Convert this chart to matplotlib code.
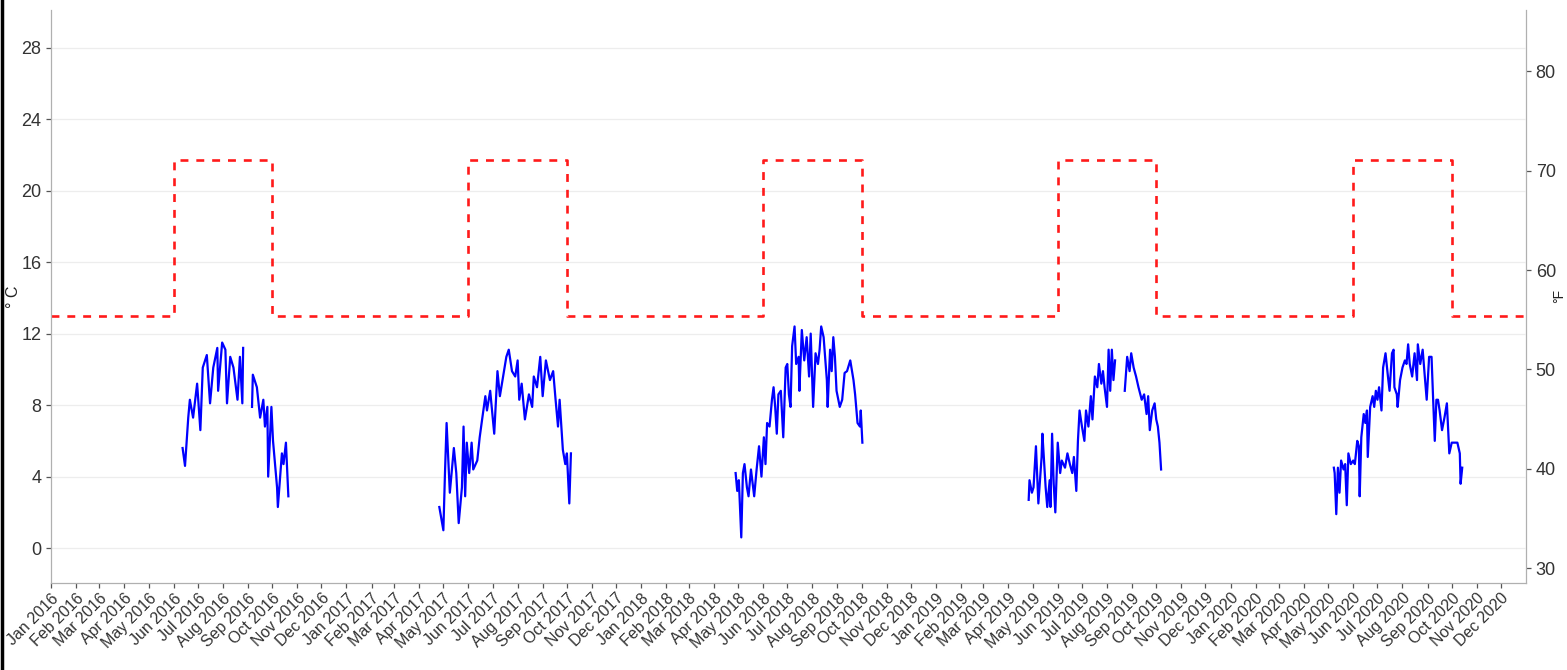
import numpy as np
import pandas as pd
import matplotlib
matplotlib.use("Agg")
import matplotlib.pyplot as plt
from matplotlib.lines import Line2D

plt.rcParams.update({"font.family": ["Liberation Sans Narrow", "Liberation Sans", "DejaVu Sans"]})

# summer/winter temperature criterion (deg C), step changes on these dates
crit_dates = ["2016-01-01", "2016-06-01", "2016-10-01", "2017-06-01", "2017-10-01",
              "2018-06-01", "2018-10-01", "2019-06-01", "2019-10-01", "2020-06-01",
              "2020-10-01", "2021-01-01"]
crit_vals = [13, 21.7, 13, 21.7, 13, 21.7, 13, 21.7, 13, 21.7, 13, 13]

# observed water temperature (deg C); None = missing data
dates_2016 = ["2016-06-12", "2016-06-15", "2016-06-19", "2016-06-21", "2016-06-25", "2016-06-30",
              "2016-07-04", "2016-07-07", "2016-07-12", "2016-07-16", "2016-07-20", "2016-07-25",
              "2016-07-26", "2016-07-31", "2016-08-04", "2016-08-06", "2016-08-10", "2016-08-14",
              "2016-08-19", "2016-08-22", "2016-08-25", "2016-08-26", "2016-08-31", "2016-09-06",
              "2016-09-07", "2016-09-12", "2016-09-16", "2016-09-20", "2016-09-22", "2016-09-25",
              "2016-09-26", "2016-09-30", "2016-10-02", "2016-10-07", "2016-10-08", "2016-10-13",
              "2016-10-15", "2016-10-18", "2016-10-21"]
temp_2016 = [5.6, 4.6, 7.3, 8.3, 7.3, 9.2, 6.6, 10.1, 10.8, 8.1, 10.1, 11.2,
             8.8, 11.5, 11.1, 8.1, 10.7, 10.1, 8.3, 10.7, 8.1, 11.2, None, 7.9,
             9.7, 9.0, 7.3, 8.3, 6.8, 7.9, 4.0, 7.9, 6.0, 3.4, 2.3, 5.3,
             4.7, 5.9, 2.9]

dates_2017 = ["2017-04-26", "2017-05-01", "2017-05-03", "2017-05-05", "2017-05-09", "2017-05-14",
              "2017-05-17", "2017-05-20", "2017-05-24", "2017-05-26", "2017-05-28", "2017-05-30",
              "2017-06-02", "2017-06-05", "2017-06-07", "2017-06-12", "2017-06-15", "2017-06-18",
              "2017-06-22", "2017-06-24", "2017-06-28", "2017-07-03", "2017-07-07", "2017-07-10",
              "2017-07-14", "2017-07-18", "2017-07-21", "2017-07-25", "2017-07-29", "2017-08-01",
              "2017-08-03", "2017-08-06", "2017-08-10", "2017-08-15", "2017-08-19", "2017-08-21",
              "2017-08-25", "2017-08-29", "2017-09-01", "2017-09-05", "2017-09-10", "2017-09-14",
              "2017-09-17", "2017-09-20", "2017-09-22", "2017-09-26", "2017-09-29", "2017-10-01",
              "2017-10-04", "2017-10-06"]
temp_2017 = [2.3, 1.0, 4.2, 7.0, 3.1, 5.6, 4.2, 1.4, 3.4, 6.8, 2.9, 5.9,
             4.2, 5.9, 4.4, 4.9, 6.2, 7.2, 8.5, 7.7, 8.8, 6.4, 9.9, 8.5,
             9.6, 10.7, 11.1, 9.9, 9.6, 10.5, 8.3, 9.2, 7.2, 8.6, 7.9, 9.6,
             9.0, 10.7, 8.5, 10.5, 9.4, 9.9, 8.3, 6.8, 8.3, 5.5, 4.7, 5.3,
             2.5, 5.3]

dates_2018 = ["2018-04-28", "2018-04-30", "2018-05-02", "2018-05-05", "2018-05-07", "2018-05-09",
              "2018-05-12", "2018-05-14", "2018-05-17", "2018-05-21", "2018-05-24", "2018-05-27",
              "2018-05-30", "2018-06-02", "2018-06-04", "2018-06-06", "2018-06-09", "2018-06-12",
              "2018-06-14", "2018-06-16", "2018-06-18", "2018-06-20", "2018-06-23", "2018-06-26",
              "2018-06-29", "2018-07-01", "2018-07-03", "2018-07-05", "2018-07-07", "2018-07-10",
              "2018-07-12", "2018-07-15", "2018-07-16", "2018-07-19", "2018-07-22", "2018-07-25",
              "2018-07-28", "2018-07-30", "2018-08-02", "2018-08-05", "2018-08-08", "2018-08-10",
              "2018-08-12", "2018-08-15", "2018-08-19", "2018-08-20", "2018-08-23", "2018-08-25",
              "2018-08-27", "2018-08-29", "2018-08-31", "2018-09-04", "2018-09-07", "2018-09-10",
              "2018-09-13", "2018-09-17", "2018-09-21", "2018-09-23", "2018-09-26", "2018-09-29",
              "2018-09-30", "2018-10-02"]
temp_2018 = [4.2, 3.2, 3.8, 0.6, 4.2, 4.7, 3.4, 2.9, 4.4, 2.9, 4.4, 5.7,
             4.0, 6.2, 4.7, 7.0, 6.8, 8.3, 9.0, 7.9, 6.4, 8.6, 8.8, 6.2,
             10.1, 10.3, 8.6, 7.9, 11.3, 12.4, 10.3, 10.7, 8.8, 12.2, 10.5, 11.8,
             9.6, 12.0, 7.9, 10.9, 10.3, 11.1, 12.4, 11.8, 9.4, 7.9, 11.1, 9.9,
             11.8, 10.7, 8.8, 7.9, 8.3, 9.8, 9.9, 10.5, 9.4, 8.6, 7.0, 6.8,
             7.7, 5.9]

dates_2019 = ["2019-04-26", "2019-04-27", "2019-04-30", "2019-05-02", "2019-05-05", "2019-05-08",
              "2019-05-12", "2019-05-13", "2019-05-17", "2019-05-19", "2019-05-22", "2019-05-23",
              "2019-05-25", "2019-05-27", "2019-05-29", "2019-06-01", "2019-06-04", "2019-06-06",
              "2019-06-10", "2019-06-13", "2019-06-16", "2019-06-19", "2019-06-21", "2019-06-24",
              "2019-06-26", "2019-06-28", "2019-07-01", "2019-07-04", "2019-07-06", "2019-07-09",
              "2019-07-12", "2019-07-14", "2019-07-17", "2019-07-20", "2019-07-22", "2019-07-25",
              "2019-07-27", "2019-07-29", "2019-08-01", "2019-08-03", "2019-08-05", "2019-08-07",
              "2019-08-09", "2019-08-11", "2019-08-17", "2019-08-23", "2019-08-26", "2019-08-29",
              "2019-08-31", "2019-09-03", "2019-09-06", "2019-09-09", "2019-09-13", "2019-09-16",
              "2019-09-19", "2019-09-21", "2019-09-23", "2019-09-26", "2019-09-29", "2019-10-01",
              "2019-10-03", "2019-10-05", "2019-10-07"]
temp_2019 = [2.7, 3.8, 3.1, 3.4, 5.7, 2.5, 5.1, 6.4, 3.4, 2.3, 3.8, 2.3,
             6.4, 3.6, 2.0, 5.9, 4.2, 4.9, 4.5, 5.3, 4.7, 4.2, 5.1, 3.2,
             6.0, 7.7, 6.8, 6.0, 7.7, 6.8, 8.5, 7.2, 9.6, 9.0, 10.3, 9.2,
             9.9, 9.0, 7.9, 11.1, 8.8, 11.1, 9.4, 10.5, None, 8.8, 10.7, 9.9,
             10.9, 10.1, 9.6, 9.0, 8.3, 8.6, 7.5, 8.5, 6.6, 7.7, 8.1, 7.2,
             6.8, 5.9, 4.4]

dates_2020 = ["2020-05-08", "2020-05-09", "2020-05-11", "2020-05-13", "2020-05-15", "2020-05-17",
              "2020-05-20", "2020-05-22", "2020-05-24", "2020-05-26", "2020-05-29", "2020-06-01",
              "2020-06-03", "2020-06-06", "2020-06-08", "2020-06-09", "2020-06-11", "2020-06-14",
              "2020-06-16", "2020-06-18", "2020-06-19", "2020-06-22", "2020-06-25", "2020-06-27",
              "2020-06-29", "2020-07-01", "2020-07-03", "2020-07-06", "2020-07-08", "2020-07-11",
              "2020-07-14", "2020-07-16", "2020-07-19", "2020-07-21", "2020-07-22", "2020-07-25",
              "2020-07-26", "2020-07-29", "2020-08-01", "2020-08-04", "2020-08-06", "2020-08-08",
              "2020-08-10", "2020-08-13", "2020-08-16", "2020-08-19", "2020-08-20", "2020-08-23",
              "2020-08-26", "2020-08-29", "2020-08-31", "2020-09-03", "2020-09-06", "2020-09-08",
              "2020-09-10", "2020-09-12", "2020-09-14", "2020-09-16", "2020-09-19", "2020-09-22",
              "2020-09-25", "2020-09-28", "2020-10-01", "2020-10-04", "2020-10-08", "2020-10-11",
              "2020-10-12", "2020-10-14"]
temp_2020 = [4.5, 4.2, 1.9, 4.5, 3.1, 4.9, 4.4, 4.7, 2.4, 5.3, 4.7, 4.9,
             4.7, 6.0, 5.7, 2.9, 6.2, 7.5, 7.0, 7.7, 5.1, 7.9, 8.5, 7.9,
             8.8, 8.3, 9.0, 7.7, 10.1, 10.9, 9.6, 8.8, 10.9, 11.1, 9.0, 8.6,
             7.9, 9.4, 10.1, 10.5, 10.3, 11.4, 10.3, 9.6, 10.9, 9.4, 11.4, 10.3,
             11.1, 9.4, 8.3, 10.7, 10.7, 8.3, 6.0, 8.3, 8.3, 7.7, 6.6, 7.3,
             8.1, 5.3, 5.9, 5.9, 5.9, 5.3, 3.6, 4.5]

seasons = [(dates_2016, temp_2016), (dates_2017, temp_2017), (dates_2018, temp_2018),
           (dates_2019, temp_2019), (dates_2020, temp_2020)]

W, H = 1567, 670
fig = plt.figure(figsize=(W / 100, H / 100), dpi=100)
ax = fig.add_axes([51 / W, 87 / H, 1475 / W, 573 / H])

for d, t in seasons:
    y = np.array([np.nan if v is None else v for v in t], dtype=float)
    ax.plot(pd.to_datetime(d), y, color="#0000FF", lw=1.6, zorder=3)

ax.plot(pd.to_datetime(crit_dates), crit_vals, drawstyle="steps-post", color="#FF1A1A",
        lw=1.9, dashes=(3.0, 3.0), zorder=2)

ax.set_xlim(pd.Timestamp("2016-01-01"), pd.Timestamp("2021-01-01"))
ax.set_ylim(-1.95, 30.1)
ax.set_yticks(np.arange(0, 29, 4))

months = pd.date_range("2016-01-01", "2020-12-01", freq="MS")
ax.set_xticks(months)
ax.set_xticklabels([m.strftime("%b %Y") for m in months], rotation=45, ha="right",
                   rotation_mode="anchor")

ax.yaxis.grid(True, color="#EDEDED", lw=0.9)
ax.xaxis.grid(False)
ax.set_axisbelow(True)
ax.spines["top"].set_visible(False)
ax.spines["right"].set_visible(False)
for s in ("left", "bottom"):
    ax.spines[s].set_color("#B0B0B0")
    ax.spines[s].set_linewidth(0.9)
ax.tick_params(axis="both", colors="#555555", labelcolor="#333333", length=3.5, width=0.9)
ax.tick_params(axis="x", labelsize=11.5, pad=2)
ax.tick_params(axis="y", labelsize=13)

ax2 = ax.secondary_yaxis("right", functions=(lambda c: c * 9 / 5 + 32, lambda f: (f - 32) * 5 / 9))
ax2.set_yticks(np.arange(30, 81, 10))
ax2.spines["right"].set_color("#B0B0B0")
ax2.spines["right"].set_linewidth(0.9)
ax2.tick_params(colors="#555555", labelcolor="#333333", length=3.5, width=0.9, labelsize=13)

# axis titles placed in figure pixels
fig.text(13 / W, 1 - 297 / H, "° C", rotation=90, ha="center", va="center",
         fontsize=11.5, color="#222222")
fig.text(1559 / W, 1 - 296 / H, "°F", rotation=90, ha="center", va="center",
         fontsize=10, color="#222222")

# dark frame edge on the left of the screenshot
fig.add_artist(Line2D([0.001, 0.001], [0, 1], color="black", lw=2.5, transform=fig.transFigure))

fig.savefig("out.png", dpi=100)
